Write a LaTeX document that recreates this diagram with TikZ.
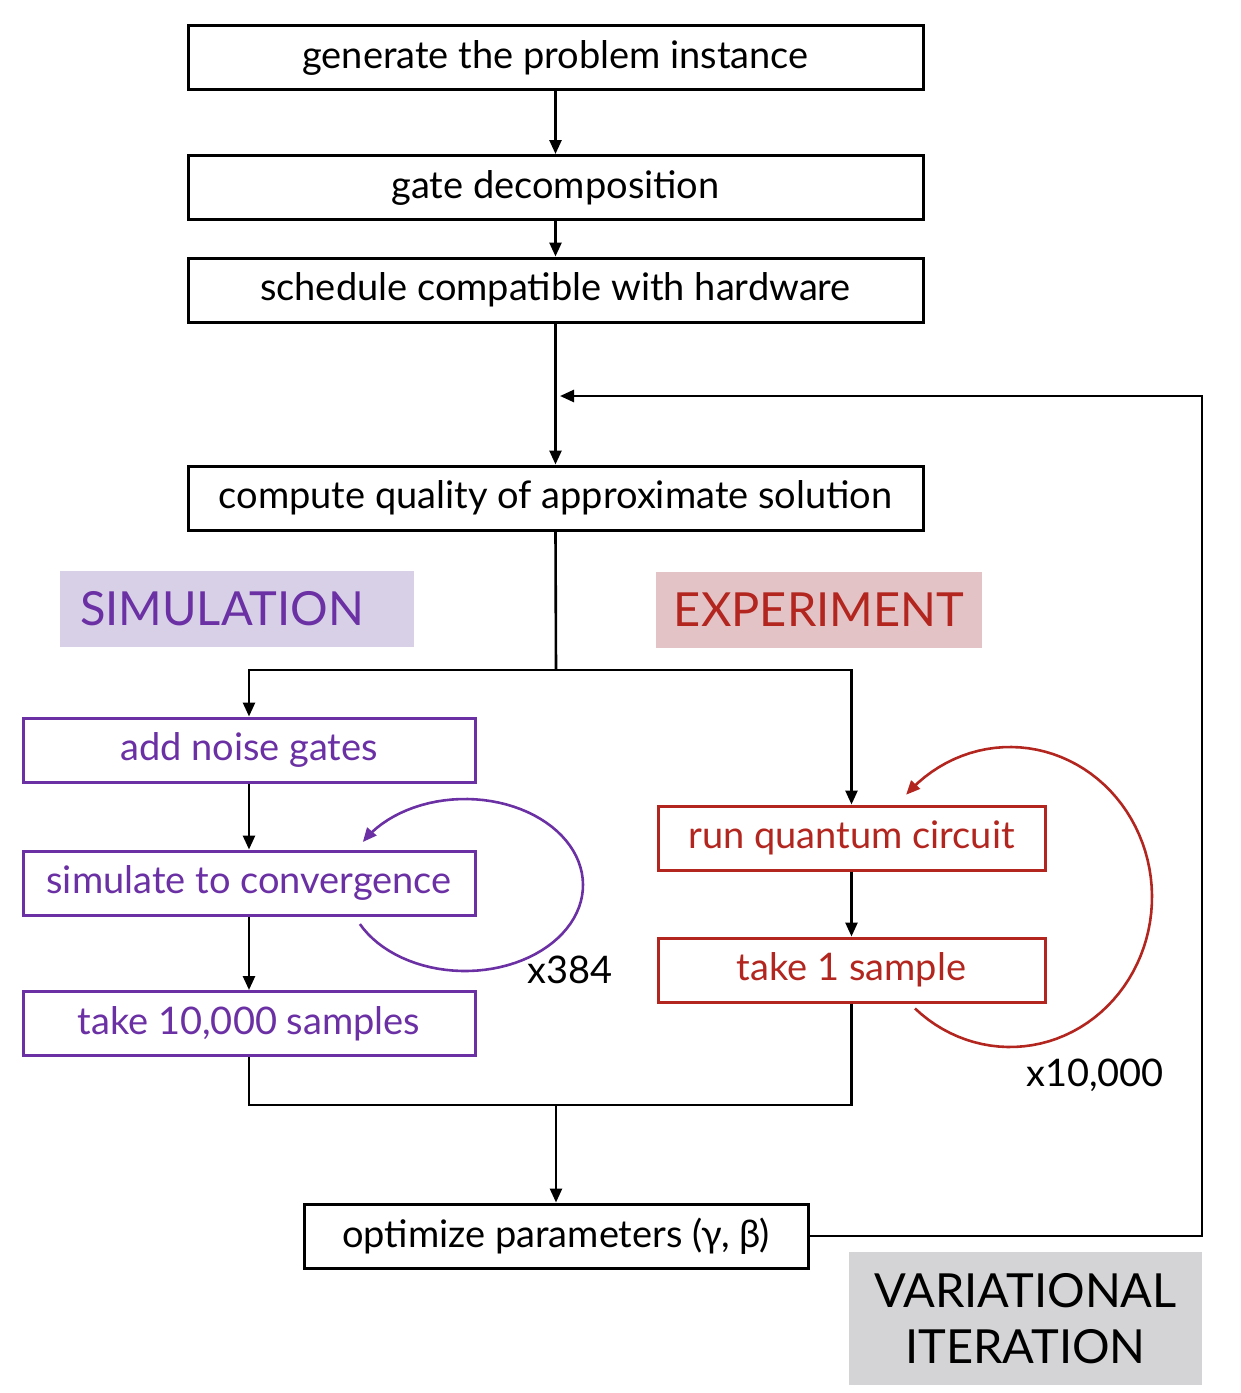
\documentclass[tikz,border=0pt]{standalone}
\usepackage{fontspec}
\setmainfont{Lato}
\usetikzlibrary{arrows.meta}
\definecolor{simpurple}{HTML}{6A30A4}
\definecolor{simfill}{HTML}{D8D0E6}
\definecolor{expred}{HTML}{B2261F}
\definecolor{expfill}{HTML}{E4C3C6}
\definecolor{vargray}{HTML}{D4D4D6}
\begin{document}
\begin{tikzpicture}[x=0.5pt,y=-0.5pt,
  box/.style={draw=black, line width=1.5pt, inner sep=0pt, minimum height=32pt,
    font=\fontsize{19}{22}\selectfont},
  wide/.style={box, minimum width=367.5pt},
  simbox/.style={box, draw=simpurple, text=simpurple, minimum width=226pt},
  expbox/.style={box, draw=expred, text=expred, minimum width=193.5pt},
  tag/.style={inner sep=0pt, minimum height=38pt, font=\fontsize{23.5}{28}\selectfont},
  conn/.style={draw=black, line width=1.3pt},
  arr/.style={conn, -{Triangle[length=7pt,width=6pt]}},
  loopsim/.style={draw=simpurple, line width=1.3pt, -{Triangle[length=7pt,width=6pt]}},
  loopexp/.style={draw=expred, line width=1.3pt, -{Triangle[length=7pt,width=6pt]}},
  count/.style={font=\fontsize{19}{22}\selectfont}
]
\useasboundingbox (0,0) rectangle (1241,1393);

\node[wide] (b1) at (555.5,57.5) {generate the problem instance};
\node[wide] (b2) at (555.5,187.5) {gate decomposition};
\node[wide] (b3) at (555.5,290) {schedule compatible with hardware};
\node[wide] (b4) at (555.5,498) {compute quality of approximate solution};

\node[tag, fill=simfill, text=simpurple, minimum width=177pt, text width=157pt, inner xsep=10pt, align=left] (simtag) at (237,609) {SIMULATION};
\node[tag, fill=expfill, text=expred, minimum width=163pt] (exptag) at (819,610) {EXPERIMENT};

\node[simbox] (a1) at (249,750) {add noise gates};
\node[simbox] (a2) at (249,883) {simulate to convergence};
\node[simbox] (a3) at (249,1023.5) {take 10,000 samples};

\node[expbox] (r1) at (851.5,838) {run quantum circuit};
\node[expbox] (r2) at (851.5,970) {take 1 sample};

\node[box, minimum width=252pt] (opt) at (556,1236) {optimize parameters (γ, β)};

\node[fill=vargray, inner sep=0pt, minimum width=176.5pt, minimum height=66.5pt, align=center,
  font=\fontsize{23.5}{28}\selectfont] (vartag) at (1025.5,1318.5) {VARIATIONAL\\ITERATION};

\node[count] (c384) at (570,970) {x384};
\node[count] (c10k) at (1095,1075) {x10,000};

% main chain
\draw[arr] (b1) -- (b2);
\draw[arr] (b2) -- (b3);
\draw[arr] (b3) -- (b4);

% split
\coordinate (split) at (556,670);
\draw[conn] (b4.south) -- (split);
\draw[arr] (split) -| (a1.north);
\draw[arr] (split) -| (r1.north);

\draw[arr] (a1) -- (a2);
\draw[arr] (a2) -- (a3);
\draw[arr] (r1) -- (r2);

% merge
\coordinate (merge) at (556,1105);
\draw[conn] (a3.south) |- (merge);
\draw[conn] (r2.south) |- (merge);
\draw[arr] (merge) -- (opt.north);

% feedback
\coordinate (fb) at (560,396);
\coordinate (corner) at (1202,1236);
\draw[arr] (opt.east) -- (corner) |- (fb);

% loops
\draw[loopsim] plot[domain=153:-150, samples=80] ({465+118*cos(\x)},{885+86*sin(\x)});
\draw[loopexp] plot[domain=132:-137, samples=80] ({1010+142*cos(\x)},{897+150*sin(\x)});
\end{tikzpicture}
\end{document}
